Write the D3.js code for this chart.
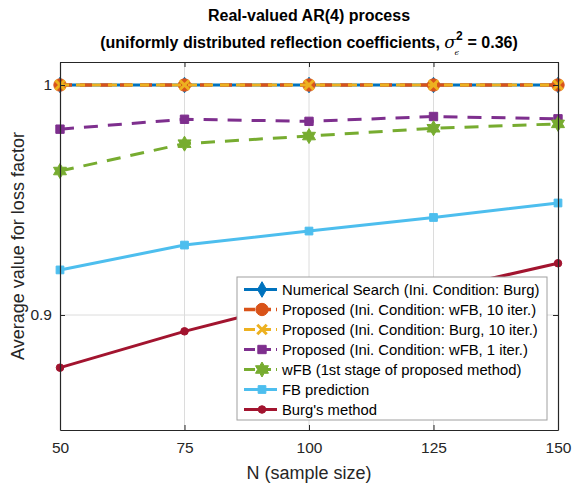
<!DOCTYPE html>
<html lang="en">
<head>
  <meta charset="UTF-8">
  <title>Real-valued AR(4) process</title>
  <script src="https://d3js.org/d3.v7.min.js"></script>
  <style>
    body { margin: 0; background: #fff; }
    text { font-family: "Liberation Sans", Arial, Helvetica, sans-serif; }
    .grid line { stroke: #dcdcdc; stroke-width: 1; }
  </style>
</head>
<body>
  <div id="chart"></div>
  <script>
    // data
    const nValues = [50, 75, 100, 125, 150];
    const numericalSearch = [1, 1, 1, 1, 1];
    const proposedWfb10 = [1, 1, 1, 1, 1];
    const proposedBurg10 = [1, 1, 1, 1, 1];
    const proposedWfb1 = [0.9808, 0.9851, 0.9842, 0.9863, 0.9853];
    const wfbStage1 = [0.9626, 0.9745, 0.9778, 0.9812, 0.9831];
    const fbPrediction = [0.9196, 0.9304, 0.9365, 0.9424, 0.9487];
    const burgMethod = [0.8771, 0.8929, 0.9067, 0.9102, 0.9225];

    const xTicks = [50, 75, 100, 125, 150];
    const yTicks = [0.9, 1];
    const seriesNames = [
      "Numerical Search (Ini. Condition: Burg)",
      "Proposed (Ini. Condition: wFB, 10 iter.)",
      "Proposed (Ini. Condition: Burg, 10 iter.)",
      "Proposed (Ini. Condition: wFB, 1 iter.)",
      "wFB (1st stage of proposed method)",
      "FB prediction",
      "Burg's method"
    ];

    const W = 573, H = 485;
    const margin = { top: 62, right: 15, bottom: 55, left: 60 };
    const width = W - margin.left - margin.right;
    const height = H - margin.top - margin.bottom;

    const svg = d3.select("#chart").append("svg")
      .attr("width", W).attr("height", H);

    const g = svg.append("g").attr("transform", `translate(${margin.left},${margin.top})`);

    const x = d3.scaleLinear().domain([50, 150]).range([0, width]);
    const y = d3.scaleLinear().domain([0.85, 1.01]).range([height, 0]);

    // grid
    g.append("g").attr("class", "grid")
      .selectAll("line").data(xTicks.slice(1, -1)).enter().append("line")
      .attr("x1", d => x(d)).attr("x2", d => x(d)).attr("y1", 0).attr("y2", height);
    g.append("g").attr("class", "grid")
      .selectAll("line").data(yTicks).enter().append("line")
      .attr("x1", 0).attr("x2", width).attr("y1", d => y(d)).attr("y2", d => y(d));

    // hexagram path
    function hexagram(r) {
      const pts = [];
      for (let i = 0; i < 12; i++) {
        const a = -Math.PI / 2 + i * Math.PI / 6;
        const rr = i % 2 === 0 ? r : r * 0.58;
        pts.push([rr * Math.cos(a), rr * Math.sin(a)]);
      }
      return "M" + pts.map(p => p.join(",")).join("L") + "Z";
    }

    const series = [
      { values: numericalSearch, color: "#0072BD", dash: null, width: 3,
        marker: d3.symbol(d3.symbolDiamond, 70)(), fill: "#0072BD" },
      { values: proposedWfb10, color: "#D95319", dash: "12,8", width: 3.5,
        marker: d3.symbol(d3.symbolCircle, 120)(), fill: "#D95319" },
      { values: proposedBurg10, color: "#EDB120", dash: "9,7", width: 3,
        marker: d3.symbol(d3.symbolX, 60)(), fill: "none", strokeMarker: true },
      { values: proposedWfb1, color: "#7E2F8E", dash: "14,10", width: 3,
        marker: d3.symbol(d3.symbolSquare, 70)(), fill: "#7E2F8E" },
      { values: wfbStage1, color: "#77AC30", dash: "14,10", width: 3,
        marker: hexagram(7.5), fill: "#77AC30" },
      { values: fbPrediction, color: "#4DBEEE", dash: null, width: 3,
        marker: d3.symbol(d3.symbolSquare, 60)(), fill: "#4DBEEE" },
      { values: burgMethod, color: "#A2142F", dash: null, width: 3,
        marker: d3.symbol(d3.symbolCircle, 45)(), fill: "#A2142F" }
    ];

    const line = d3.line().x((d, i) => x(nValues[i])).y(d => y(d));

    series.forEach(s => {
      g.append("path")
        .datum(s.values)
        .attr("fill", "none")
        .attr("stroke", s.color)
        .attr("stroke-width", s.width)
        .attr("stroke-dasharray", s.dash)
        .attr("d", line);
      g.selectAll(null).data(s.values).enter().append("path")
        .attr("transform", (d, i) => `translate(${x(nValues[i])},${y(d)})`)
        .attr("d", s.marker)
        .attr("fill", s.fill)
        .attr("stroke", s.color)
        .attr("stroke-width", s.strokeMarker ? 3 : 1);
    });

    // axes box
    const tickLen = 5;
    const xAxisB = d3.axisBottom(x).tickValues(xTicks).tickSizeInner(-tickLen).tickSizeOuter(0).tickPadding(12);
    const xAxisT = d3.axisTop(x).tickValues(xTicks).tickSizeInner(-tickLen).tickSizeOuter(0).tickFormat("");
    const yAxisL = d3.axisLeft(y).tickValues(yTicks).tickSizeInner(-tickLen).tickSizeOuter(0).tickPadding(8)
      .tickFormat(d => d === 1 ? "1" : d3.format(".1f")(d));
    const yAxisR = d3.axisRight(y).tickValues(yTicks).tickSizeInner(-tickLen).tickSizeOuter(0).tickFormat("");

    const styleAxis = sel => {
      sel.select(".domain").attr("stroke", "#262626").attr("stroke-width", 1.2);
      sel.selectAll(".tick line").attr("stroke", "#262626");
      sel.selectAll(".tick text").attr("fill", "#262626").style("font-size", "15.5px")
        .style("font-family", "'Liberation Sans', Arial, sans-serif");
    };
    g.append("g").attr("transform", `translate(0,${height})`).call(xAxisB).call(styleAxis);
    g.append("g").call(xAxisT).call(styleAxis);
    g.append("g").call(yAxisL).call(styleAxis);
    g.append("g").attr("transform", `translate(${width},0)`).call(yAxisR).call(styleAxis);

    // axis labels
    svg.append("text")
      .attr("x", margin.left + width / 2).attr("y", 479)
      .attr("text-anchor", "middle").attr("fill", "#262626")
      .style("font-size", "18px").text("N (sample size)");
    svg.append("text")
      .attr("transform", `translate(24,${margin.top + height / 2}) rotate(-90)`)
      .attr("text-anchor", "middle").attr("fill", "#262626")
      .style("font-size", "18px").text("Average value for loss factor");

    // title
    const cx = margin.left + width / 2;
    svg.append("text")
      .attr("x", cx).attr("y", 21).attr("text-anchor", "middle")
      .style("font-size", "16px").style("font-weight", "bold")
      .text("Real-valued AR(4)  process");
    const t2 = svg.append("text")
      .attr("x", cx).attr("y", 48).attr("text-anchor", "middle")
      .style("font-size", "16px").style("font-weight", "bold");
    t2.append("tspan").text("(uniformly distributed reflection coefficients, ");
    t2.append("tspan").style("font-family", "'DejaVu Serif', serif").style("font-style", "italic")
      .style("font-weight", "normal").style("font-size", "17px").text("σ");
    t2.append("tspan").attr("dy", -8).style("font-size", "12px").text("2");
    t2.append("tspan").attr("dx", -8).attr("dy", 15).style("font-size", "8px")
      .style("font-weight", "normal").style("font-family", "'DejaVu Serif', serif")
      .style("font-style", "italic").text("ϵ");
    t2.append("tspan").attr("dx", 4).attr("dy", -7).text(" = 0.36)");

    // legend
    const lg = svg.append("g").attr("transform", "translate(237,277)");
    lg.append("rect").attr("width", 310).attr("height", 143)
      .attr("fill", "#fff").attr("stroke", "#a0a0a0").attr("stroke-width", 1);
    series.forEach((s, i) => {
      const row = lg.append("g").attr("transform", `translate(0,${12.5 + i * 20})`);
      row.append("line").attr("x1", 7).attr("x2", 40).attr("y1", 0).attr("y2", 0)
        .attr("stroke", s.color).attr("stroke-width", s.width)
        .attr("stroke-dasharray", s.dash ? "11,5" : null);
      row.append("path").attr("transform", "translate(25,0)")
        .attr("d", s.marker).attr("fill", s.fill).attr("stroke", s.color)
        .attr("stroke-width", s.strokeMarker ? 3 : 1);
      row.append("text").attr("x", 45).attr("y", 0).attr("dy", "0.35em")
        .attr("fill", "#000").style("font-size", "14.8px").text(seriesNames[i]);
    });
  </script>
</body>
</html>
